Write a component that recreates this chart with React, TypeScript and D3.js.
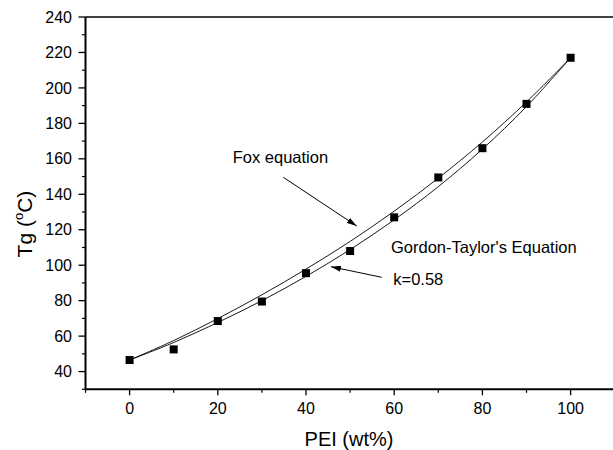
import React from "react";
import * as d3 from "d3";

const wt = [0, 10, 20, 30, 40, 50, 60, 70, 80, 90, 100];
const tgMeasured = [46.5, 52.5, 68.5, 79.5, 95.5, 108, 127, 149.5, 166, 191, 217];
const tgFox = [46.5, 57.5, 69.9, 83.3, 97.8, 113.4, 130.5, 149.1, 169.5, 192.1, 217];
const tgGT = [46.5, 56.4, 67.7, 80.0, 93.7, 108.8, 125.6, 144.3, 165.5, 189.5, 217];
const xMajor = [0, 20, 40, 60, 80, 100];
const xMinor = [-10, 10, 30, 50, 70, 90, 110];
const yMajor = [40, 60, 80, 100, 120, 140, 160, 180, 200, 220, 240];
const yMinor = [30, 50, 70, 90, 110, 130, 150, 170, 190, 210, 230];

const W = 613;
const H = 450;
const left = 85.5;
const right = 614.7;
const top = 17;
const bottom = 389.3;
const FONT = "Liberation Sans, Arial, Helvetica, sans-serif";

export default function App() {
  const x = d3.scaleLinear().domain([-10, 110]).range([left, right]);
  const y = d3.scaleLinear().domain([30, 240]).range([bottom, top]);
  const line = d3
    .line<number>()
    .x((_, i) => x(wt[i]))
    .y((d) => y(d))
    .curve(d3.curveCatmullRom.alpha(0.5));

  return (
    <svg
      width={W}
      height={H}
      style={{ position: "absolute", left: 0, top: 0, display: "block", background: "#fff" }}
    >
      <defs>
        <marker id="ah" viewBox="0 0 10 6" refX="10" refY="3" markerWidth="10" markerHeight="6" markerUnits="userSpaceOnUse" orient="auto">
          <path d="M0,0 L10,3 L0,6 Z" fill="#000" />
        </marker>
      </defs>
      {/* frame */}
      <line x1={left} x2={W} y1={top} y2={top} stroke="#000" strokeWidth={1.6} />
      <line x1={left} x2={left} y1={top} y2={bottom} stroke="#000" strokeWidth={2} />
      <line x1={left} x2={right} y1={bottom} y2={bottom} stroke="#000" strokeWidth={2} />
      {/* x ticks */}
      {xMajor.map((v) => (
        <g key={"xm" + v}>
          <line x1={x(v)} x2={x(v)} y1={bottom} y2={bottom + 6} stroke="#000" strokeWidth={1.3} />
          <text x={x(v)} y={413.5} fontSize={16} fontFamily={FONT} textAnchor="middle">{v}</text>
        </g>
      ))}
      {xMinor.map((v) => (
        <line key={"xn" + v} x1={x(v)} x2={x(v)} y1={bottom} y2={bottom + 3.5} stroke="#000" strokeWidth={1.2} />
      ))}
      {/* y ticks */}
      {yMajor.map((v) => (
        <g key={"ym" + v}>
          <line x1={left - 7} x2={left} y1={y(v)} y2={y(v)} stroke="#000" strokeWidth={1.3} />
          <text x={72} y={y(v) + 5.6} fontSize={16} fontFamily={FONT} textAnchor="end">{v}</text>
        </g>
      ))}
      {yMinor.map((v) => (
        <line key={"yn" + v} x1={left - 3.5} x2={left} y1={y(v)} y2={y(v)} stroke="#000" strokeWidth={1.2} />
      ))}
      {/* axis titles */}
      <text x={349} y={446} fontSize={20} fontFamily={FONT} textAnchor="middle">PEI (wt%)</text>
      <text
        transform={`translate(32,${224}) rotate(-90)`}
        fontSize={21}
        fontFamily={FONT}
        textAnchor="middle"
      >
        Tg (<tspan fontSize={13} dy={-9}>o</tspan><tspan dy={9}>C)</tspan>
      </text>
      {/* curves */}
      <path d={line(tgFox) || ""} fill="none" stroke="#000" strokeWidth={0.9} />
      <path d={line(tgGT) || ""} fill="none" stroke="#000" strokeWidth={0.9} />
      {/* points */}
      {tgMeasured.map((v, i) => (
        <rect key={"p" + i} x={x(wt[i]) - 4} y={y(v) - 4} width={8} height={8} fill="#000" />
      ))}
      {/* annotations */}
      <text x={232.7} y={163.3} fontSize={16.5} fontFamily={FONT}>Fox equation</text>
      <line x1={283.3} y1={177.3} x2={356.7} y2={226} stroke="#000" strokeWidth={1} markerEnd="url(#ah)" />
      <text x={391} y={253.3} fontSize={16.5} fontFamily={FONT}>Gordon-Taylor's Equation</text>
      <text x={393.3} y={285} fontSize={16.5} fontFamily={FONT}>k=0.58</text>
      <line x1={381.7} y1={277.3} x2={331} y2={266.7} stroke="#000" strokeWidth={1} markerEnd="url(#ah)" />
    </svg>
  );
}
